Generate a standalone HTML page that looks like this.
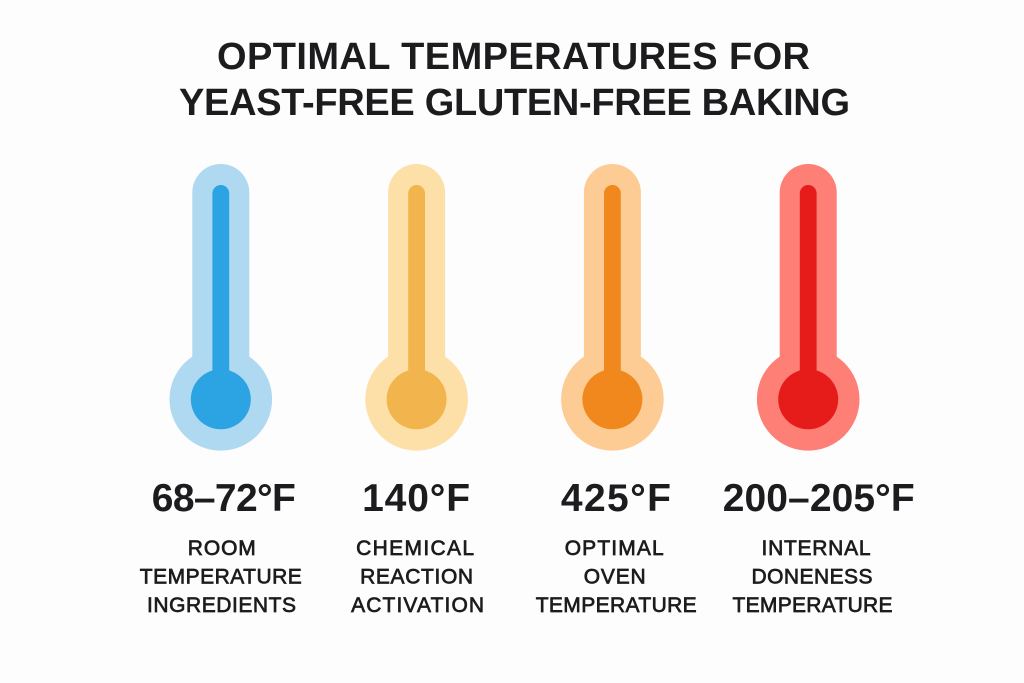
<!DOCTYPE html>
<html lang="en">
<head>
<meta charset="utf-8">
<title>Optimal Temperatures for Yeast-Free Gluten-Free Baking</title>
<style>
html,body{margin:0;padding:0;background:#fdfdfd;}
svg{display:block;}
text{font-family:"Liberation Sans",Arial,sans-serif;fill:#1c1c1e;text-anchor:middle;}
.title{font-size:38px;font-weight:700;}
.value{font-size:39px;font-weight:700;}
.desc{font-size:21px;font-weight:400;stroke:#1c1c1e;stroke-width:.7px;}
</style>
</head>
<body>
<svg id="chart" xmlns="http://www.w3.org/2000/svg" width="1024" height="683" viewBox="0 0 1024 683">
  <rect width="1024" height="683" fill="#fdfdfd"/>
  <text class="title" x="513.5" y="69" textLength="593" lengthAdjust="spacing">OPTIMAL TEMPERATURES FOR</text>
  <text class="title" x="514.5" y="115" textLength="671" lengthAdjust="spacing">YEAST-FREE GLUTEN-FREE BAKING</text>
</svg>
<script>
const categories = [
  ["ROOM", "TEMPERATURE", "INGREDIENTS"],
  ["CHEMICAL", "REACTION", "ACTIVATION"],
  ["OPTIMAL", "OVEN", "TEMPERATURE"],
  ["INTERNAL", "DONENESS", "TEMPERATURE"]
];
const valueLabels = ["68–72°F", "140°F", "425°F", "200–205°F"];
const fillLevels = [100, 100, 100, 100];
const haloColors = ["#aed9f1", "#fde0a8", "#fdcc94", "#fd7f75"];
const coreColors = ["#2ca3e2", "#f2b44c", "#f0881e", "#e51c1a"];

const SVG_NS = "http://www.w3.org/2000/svg";
const chart = document.getElementById("chart");
const bulbY = 399.3;
const tubeTopY = 185;
const haloPad = 21;

function xForIndex(i) {
  return 220.8 + i * 195.8;
}
function yForLevel(level) {
  return bulbY + (tubeTopY - bulbY) * (level / 100);
}
function make(tag, attrs, parent) {
  const el = document.createElementNS(SVG_NS, tag);
  for (const key in attrs) el.setAttribute(key, attrs[key]);
  parent.appendChild(el);
  return el;
}

/* Text fitting only: the reference typeface is wider than Liberation for some words. */
const valueFit = [[3, 144], [-0.5, 108], [3.5, 110], [10.5, 192]];
const lineFit = [
  [[1, 68], [0, 162], [0.7, 149]],
  [[-1.5, 118], [0, 113], [1, 133]],
  [[1.8, 99], [2.3, 62], [3.8, 161]],
  [[7.8, 109], [3.8, 121], [4.3, 160]]
];

categories.forEach(function (lines, i) {
  const cx = xForIndex(i);
  const topY = yForLevel(fillLevels[i]);

  const group = make("g", {}, chart);
  
  

  const haloTube = make("rect", {
    x: cx - 28.5, y: topY - haloPad, width: 57,
    height: bulbY - topY + haloPad, rx: 28.5, fill: haloColors[i]
  }, group);
  
  

  const haloBulb = make("circle", { cx: cx, cy: bulbY, r: 51.3, fill: haloColors[i] }, group);
  
  

  const coreTube = make("rect", {
    x: cx - 8.4, y: topY, width: 16.8,
    height: bulbY - topY, rx: 8.4, fill: coreColors[i]
  }, group);
  
  

  const coreBulb = make("circle", { cx: cx, cy: bulbY, r: 30, fill: coreColors[i] }, group);
  
  

  const value = make("text", {
    class: "value", x: cx + valueFit[i][0], y: 511,
    textLength: valueFit[i][1], lengthAdjust: "spacing"
  }, chart);
  
  
  value.textContent = valueLabels[i];

  lines.forEach(function (line, j) {
    const label = make("text", {
      class: "desc", x: cx + lineFit[i][j][0], y: 555 + j * 28.5,
      textLength: lineFit[i][j][1], lengthAdjust: "spacing"
    }, chart);
    
    
    label.textContent = line;
  });
});
</script>
</body>
</html>
